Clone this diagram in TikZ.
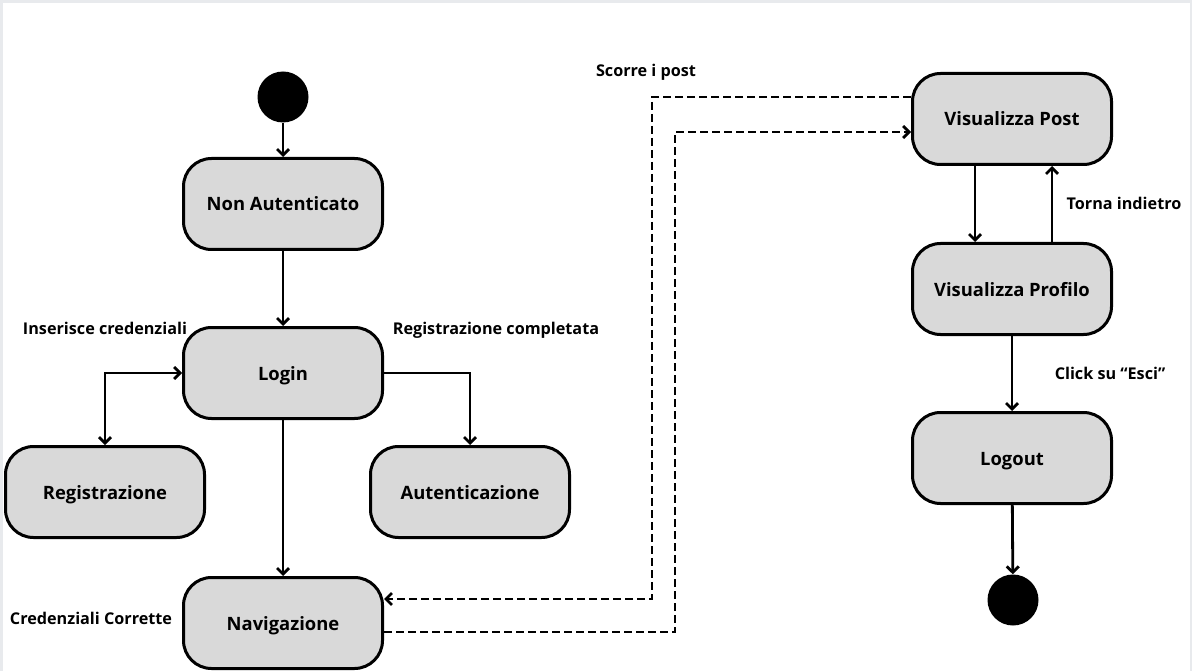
\documentclass[tikz,border=0pt]{standalone}
\usepackage{fontspec}
\setmainfont{Open Sans}
\usetikzlibrary{arrows.meta}
\definecolor{boxfill}{HTML}{D9D9D9}
\definecolor{frame}{HTML}{E8EAED}
\begin{document}
\begin{tikzpicture}[x=1pt,y=-1pt,
  state/.style={draw=black, line width=3pt, fill=boxfill, rounded corners=28pt,
    minimum width=199pt, minimum height=91pt, inner sep=0pt,
    text height=14pt, text depth=-1pt,
    font=\bfseries\fontsize{18.4}{22}\selectfont},
  dot/.style={circle, fill=black, draw=none, minimum size=51pt, inner sep=0pt},
  lbl/.style={font=\bfseries\fontsize{16.2}{19}\selectfont, inner sep=0pt,
    text height=11.6pt, text depth=0pt},
  tip/.style={Straight Barb[length=6pt,width=12pt,line width=2.8pt]},
  arr/.style={line width=2.8pt, -{Straight Barb[length=6pt,width=12pt,line width=2.8pt]}},
  darr/.style={arr, dash pattern=on 8pt off 4pt},
]
\fill[frame] (0,0) rectangle (1192,671);
\fill[white] (3,3) rectangle (1190,671);
\useasboundingbox (0,0) rectangle (1192,671);

\node[dot] (start) at (283,97) {};
\node[state] (nonaut) at (283,204) {Non Autenticato};
\node[state] (login) at (283,373) {Login};
\node[state] (reg) at (105,492) {Registrazione};
\node[state] (aut) at (470,492) {Autenticazione};
\node[state] (nav) at (283,623) {Navigazione};
\node[state] (vpost) at (1012,119) {Visualizza Post};
\node[state] (vprof) at (1012,289) {Visualizza Profilo};
\node[state] (logout) at (1012,458) {Logout};
\node[dot] (end) at (1013,600) {};

\coordinate (c1) at (105,373);
\coordinate (c2) at (470,373);
\coordinate (d1) at (652,97);
\coordinate (d2) at (652,599);
\coordinate (e1) at (675,632);
\coordinate (e2) at (675,132);

\draw[arr] (start) -- (nonaut);
\draw[arr] (nonaut) -- (login);
\draw[arr] (login) -- (nav);
\draw[line width=2.8pt, {Straight Barb[length=6pt,width=12pt,line width=2.8pt]}-{Straight Barb[length=6pt,width=12pt,line width=2.8pt]}] (login.west) -- (c1) -- (reg.north);
\draw[arr] (login.east) -- (c2) -- (aut.north);
\draw[darr] (vpost.west |- d1) -- (d1) -- (d2) -- (nav.east |- d2);
\draw[darr] (nav.east |- e1) -- (e1) -- (e2) -- (vpost.west |- e2);
\draw[arr] ([xshift=-37pt]vpost.south) -- ([xshift=-37pt]vprof.north);
\draw[arr] ([xshift=40pt]vprof.north) -- ([xshift=40pt]vpost.south);
\draw[arr] (vprof) -- (logout);
\draw[arr] (logout) -- (end);

\node[lbl] (l1) at (646,71) {Scorre i post};
\node[lbl] (l2) at (105,329) {Inserisce credenziali};
\node[lbl] (l3) at (496,329) {Registrazione completata};
\node[lbl] (l4) at (91,619) {Credenziali Corrette};
\node[lbl] (l5) at (1124,204) {Torna indietro};
\node[lbl] (l6) at (1110,374) {Click su “Esci”};
\end{tikzpicture}
\end{document}
